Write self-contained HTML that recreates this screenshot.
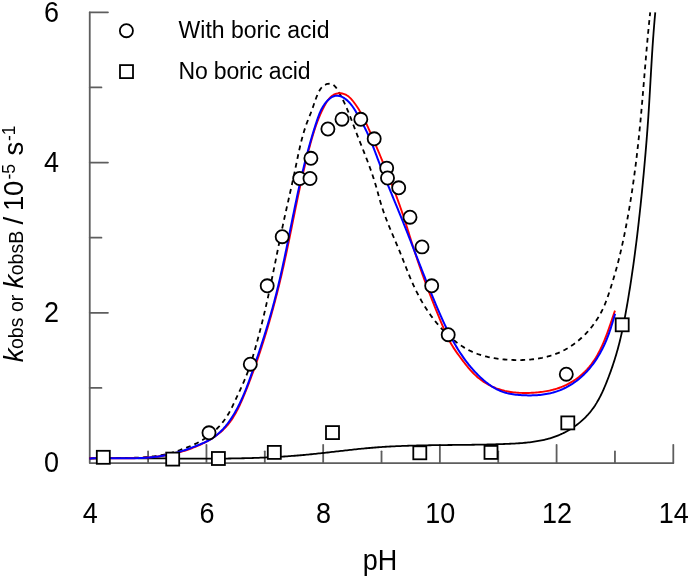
<!DOCTYPE html>
<html><head><meta charset="utf-8"><title>chart</title>
<style>
html,body{margin:0;padding:0;background:#fff;}
body{width:690px;height:578px;overflow:hidden;}
svg{display:block;will-change:transform;}
text{font-family:"Liberation Sans",sans-serif;fill:#000;}
.t{font-size:27.5px;}
.lg{font-size:23px;}
</style></head><body>
<svg width="690" height="578" viewBox="0 0 690 578">
<rect width="690" height="578" fill="#fff"/>

<g stroke="#5e5e5e" stroke-width="1.8" fill="none" stroke-linecap="round" stroke-linejoin="round">
<path d="M89.75,12.33 V463.05 H673.30"/>
<path d="M148.10,463.05 v-11.7"/>
<path d="M206.46,463.05 v-18.2"/>
<path d="M264.81,463.05 v-11.7"/>
<path d="M323.17,463.05 v-18.2"/>
<path d="M381.52,463.05 v-11.7"/>
<path d="M439.88,463.05 v-18.2"/>
<path d="M498.23,463.05 v-11.7"/>
<path d="M556.59,463.05 v-18.2"/>
<path d="M614.94,463.05 v-11.7"/>
<path d="M673.30,463.05 v-18.2"/>
<path d="M89.75,387.93 h11.7"/>
<path d="M89.75,312.81 h18.2"/>
<path d="M89.75,237.69 h11.7"/>
<path d="M89.75,162.57 h18.2"/>
<path d="M89.75,87.45 h11.7"/>
<path d="M89.75,12.33 h18.2"/>
</g>
<g fill="none" stroke-linejoin="round">
<path d="M89.49,458.42 L90.99,458.39 L92.49,458.37 L93.99,458.35 L95.49,458.33 L96.99,458.31 L98.49,458.29 L99.99,458.27 L101.49,458.26 L102.98,458.24 L104.48,458.23 L105.98,458.22 L107.48,458.21 L108.98,458.20 L110.48,458.19 L111.98,458.19 L113.48,458.18 L114.98,458.18 L116.48,458.17 L117.98,458.17 L119.47,458.17 L120.97,458.17 L122.47,458.17 L123.97,458.17 L125.47,458.18 L126.97,458.18 L128.47,458.18 L129.97,458.19 L131.47,458.19 L132.97,458.20 L134.47,458.21 L135.97,458.21 L137.47,458.22 L138.96,458.23 L140.46,458.24 L141.96,458.25 L143.46,458.26 L144.96,458.27 L146.46,458.28 L147.96,458.29 L149.46,458.31 L150.96,458.32 L152.46,458.33 L153.96,458.34 L155.46,458.36 L156.96,458.37 L158.45,458.38 L159.95,458.39 L161.45,458.41 L162.95,458.42 L164.45,458.43 L165.95,458.45 L167.45,458.46 L168.95,458.47 L170.45,458.49 L171.95,458.50 L173.44,458.51 L174.94,458.52 L176.44,458.53 L177.94,458.55 L179.44,458.56 L180.94,458.57 L182.44,458.58 L183.94,458.59 L185.44,458.60 L186.93,458.61 L188.43,458.62 L189.93,458.62 L191.43,458.63 L192.93,458.64 L194.43,458.64 L195.93,458.65 L197.42,458.65 L198.92,458.66 L200.42,458.66 L201.92,458.66 L203.42,458.66 L204.92,458.66 L206.41,458.66 L207.91,458.66 L209.41,458.66 L210.91,458.65 L212.41,458.65 L213.90,458.64 L215.40,458.64 L216.90,458.63 L218.40,458.62 L219.89,458.61 L221.39,458.60 L222.89,458.58 L224.39,458.57 L225.89,458.55 L227.38,458.53 L228.88,458.52 L230.38,458.50 L231.87,458.47 L233.37,458.45 L234.87,458.42 L236.37,458.40 L237.86,458.37 L239.36,458.34 L240.86,458.31 L242.35,458.27 L243.85,458.24 L245.35,458.20 L246.84,458.16 L248.34,458.12 L249.84,458.08 L251.33,458.04 L252.83,457.99 L254.33,457.94 L255.82,457.89 L257.32,457.84 L258.81,457.78 L260.31,457.72 L261.81,457.67 L263.30,457.60 L264.80,457.54 L266.29,457.47 L267.79,457.41 L269.29,457.33 L270.78,457.26 L272.28,457.19 L273.77,457.11 L275.27,457.03 L276.76,456.94 L278.26,456.86 L279.75,456.77 L281.25,456.68 L282.74,456.59 L284.24,456.49 L285.73,456.39 L287.22,456.29 L288.72,456.19 L290.21,456.08 L291.71,455.97 L293.20,455.86 L294.70,455.74 L296.19,455.62 L297.68,455.50 L299.18,455.38 L300.67,455.25 L302.16,455.12 L303.66,454.98 L305.15,454.85 L306.64,454.71 L308.14,454.56 L309.63,454.42 L311.12,454.27 L312.62,454.11 L314.11,453.96 L315.60,453.80 L317.09,453.65 L318.59,453.48 L320.08,453.32 L321.57,453.16 L323.06,452.99 L324.56,452.83 L326.05,452.66 L327.54,452.49 L329.03,452.32 L330.52,452.15 L332.02,451.98 L333.51,451.80 L335.00,451.63 L336.49,451.46 L337.98,451.29 L339.47,451.12 L340.97,450.95 L342.46,450.78 L343.95,450.61 L345.44,450.44 L346.93,450.27 L348.42,450.10 L349.91,449.94 L351.41,449.77 L352.90,449.61 L354.39,449.45 L355.88,449.29 L357.37,449.14 L358.86,448.98 L360.35,448.83 L361.85,448.68 L363.34,448.54 L364.83,448.40 L366.32,448.26 L367.81,448.12 L369.30,447.99 L370.79,447.86 L372.29,447.73 L373.78,447.61 L375.27,447.49 L376.76,447.38 L378.25,447.27 L379.74,447.16 L381.23,447.06 L382.73,446.96 L384.22,446.87 L385.71,446.77 L387.20,446.69 L388.69,446.60 L390.19,446.52 L391.68,446.44 L393.17,446.36 L394.66,446.29 L396.15,446.22 L397.65,446.15 L399.14,446.09 L400.63,446.03 L402.12,445.97 L403.62,445.91 L405.11,445.85 L406.60,445.80 L408.10,445.75 L409.59,445.71 L411.08,445.66 L412.58,445.62 L414.07,445.58 L415.56,445.54 L417.06,445.50 L418.55,445.46 L420.05,445.43 L421.54,445.40 L423.04,445.37 L424.53,445.34 L426.03,445.31 L427.52,445.28 L429.02,445.26 L430.51,445.24 L432.01,445.21 L433.50,445.19 L435.00,445.17 L436.49,445.15 L437.99,445.13 L439.49,445.11 L440.98,445.10 L442.48,445.08 L443.98,445.06 L445.47,445.05 L446.97,445.03 L448.47,445.02 L449.97,445.00 L451.47,444.99 L452.96,444.97 L454.46,444.96 L455.96,444.94 L457.46,444.93 L458.96,444.91 L460.46,444.90 L461.96,444.88 L463.46,444.87 L464.96,444.85 L466.46,444.83 L467.96,444.82 L469.46,444.80 L470.96,444.78 L472.47,444.76 L473.97,444.74 L475.47,444.72 L476.97,444.69 L478.48,444.67 L479.98,444.64 L481.48,444.62 L482.99,444.59 L484.49,444.56 L486.00,444.53 L487.50,444.50 L489.01,444.46 L490.51,444.43 L492.02,444.39 L493.52,444.35 L495.03,444.31 L496.54,444.26 L498.04,444.22 L499.55,444.17 L501.06,444.12 L502.57,444.07 L504.07,444.01 L505.58,443.95 L507.09,443.89 L508.60,443.83 L510.11,443.76 L511.62,443.69 L513.13,443.62 L514.64,443.54 L516.15,443.45 L517.65,443.36 L519.16,443.26 L520.66,443.15 L522.16,443.03 L523.66,442.90 L525.16,442.77 L526.66,442.62 L528.15,442.46 L529.64,442.29 L531.12,442.11 L532.60,441.91 L534.08,441.70 L535.56,441.47 L537.03,441.23 L538.49,440.97 L539.95,440.70 L541.41,440.41 L542.86,440.10 L544.31,439.77 L545.75,439.43 L547.18,439.06 L548.61,438.67 L550.03,438.27 L551.45,437.84 L552.86,437.38 L554.26,436.91 L555.65,436.41 L557.04,435.88 L558.42,435.33 L559.79,434.76 L561.15,434.16 L562.51,433.53 L563.85,432.87 L565.19,432.19 L566.51,431.49 L567.82,430.76 L569.12,430.01 L570.41,429.23 L571.68,428.43 L572.94,427.60 L574.19,426.75 L575.42,425.88 L576.63,424.98 L577.83,424.07 L579.01,423.13 L580.18,422.17 L581.32,421.19 L582.45,420.18 L583.55,419.16 L584.64,418.12 L585.70,417.05 L586.74,415.97 L587.77,414.87 L588.76,413.75 L589.74,412.61 L590.69,411.45 L591.61,410.27 L592.51,409.08 L593.39,407.87 L594.24,406.64 L595.07,405.40 L595.87,404.14 L596.66,402.87 L597.42,401.58 L598.17,400.28 L598.89,398.97 L599.60,397.65 L600.29,396.32 L600.96,394.98 L601.62,393.63 L602.26,392.27 L602.89,390.90 L603.51,389.53 L604.11,388.14 L604.70,386.76 L605.29,385.37 L605.86,383.97 L606.42,382.57 L606.98,381.17 L607.53,379.77 L608.07,378.37 L608.61,376.96 L609.14,375.55 L609.66,374.14 L610.18,372.73 L610.69,371.32 L611.19,369.91 L611.69,368.49 L612.18,367.08 L612.67,365.66 L613.14,364.24 L613.61,362.81 L614.08,361.39 L614.53,359.96 L614.98,358.54 L615.42,357.11 L615.86,355.68 L616.28,354.24 L616.70,352.81 L617.11,351.37 L617.52,349.93 L617.92,348.49 L618.31,347.05 L618.69,345.60 L619.06,344.15 L619.43,342.70 L619.79,341.25 L620.14,339.80 L620.49,338.34 L620.83,336.88 L621.17,335.42 L621.50,333.96 L621.82,332.50 L622.14,331.04 L622.45,329.57 L622.76,328.10 L623.06,326.64 L623.36,325.17 L623.65,323.70 L623.94,322.23 L624.23,320.75 L624.51,319.28 L624.79,317.81 L625.06,316.33 L625.33,314.86 L625.60,313.38 L625.87,311.91 L626.13,310.43 L626.40,308.96 L626.66,307.48 L626.92,306.00 L627.17,304.52 L627.43,303.05 L627.68,301.57 L627.93,300.09 L628.18,298.61 L628.43,297.13 L628.67,295.66 L628.91,294.18 L629.15,292.70 L629.39,291.22 L629.63,289.74 L629.87,288.26 L630.10,286.78 L630.33,285.30 L630.56,283.81 L630.79,282.33 L631.02,280.85 L631.24,279.37 L631.46,277.89 L631.68,276.41 L631.90,274.92 L632.12,273.44 L632.34,271.96 L632.55,270.48 L632.77,268.99 L632.98,267.51 L633.19,266.03 L633.40,264.54 L633.60,263.06 L633.81,261.57 L634.01,260.09 L634.21,258.60 L634.41,257.12 L634.61,255.63 L634.81,254.15 L635.00,252.66 L635.20,251.18 L635.39,249.69 L635.58,248.21 L635.77,246.72 L635.96,245.23 L636.15,243.75 L636.34,242.26 L636.52,240.77 L636.70,239.29 L636.89,237.80 L637.07,236.31 L637.25,234.82 L637.42,233.34 L637.60,231.85 L637.78,230.36 L637.95,228.87 L638.12,227.38 L638.30,225.89 L638.47,224.41 L638.64,222.92 L638.81,221.43 L638.97,219.94 L639.14,218.45 L639.30,216.96 L639.47,215.47 L639.63,213.98 L639.79,212.49 L639.95,211.00 L640.11,209.51 L640.27,208.02 L640.43,206.53 L640.59,205.04 L640.74,203.55 L640.90,202.06 L641.05,200.57 L641.20,199.08 L641.36,197.59 L641.51,196.10 L641.66,194.60 L641.81,193.11 L641.96,191.62 L642.10,190.13 L642.25,188.64 L642.40,187.15 L642.54,185.66 L642.69,184.16 L642.83,182.67 L642.97,181.18 L643.11,179.69 L643.26,178.20 L643.40,176.70 L643.54,175.21 L643.68,173.72 L643.82,172.23 L643.95,170.74 L644.09,169.24 L644.23,167.75 L644.36,166.26 L644.50,164.77 L644.63,163.27 L644.77,161.78 L644.90,160.29 L645.03,158.79 L645.16,157.30 L645.29,155.81 L645.42,154.31 L645.55,152.82 L645.67,151.33 L645.80,149.84 L645.93,148.34 L646.05,146.85 L646.17,145.35 L646.30,143.86 L646.42,142.37 L646.54,140.87 L646.66,139.38 L646.77,137.89 L646.89,136.39 L647.01,134.90 L647.12,133.40 L647.23,131.91 L647.35,130.42 L647.46,128.92 L647.57,127.43 L647.68,125.93 L647.79,124.44 L647.89,122.94 L648.00,121.45 L648.10,119.95 L648.20,118.46 L648.31,116.96 L648.41,115.47 L648.50,113.97 L648.60,112.48 L648.70,110.98 L648.79,109.49 L648.89,107.99 L648.98,106.49 L649.08,105.00 L649.17,103.50 L649.26,102.01 L649.35,100.51 L649.44,99.02 L649.53,97.52 L649.62,96.02 L649.70,94.53 L649.79,93.03 L649.88,91.54 L649.97,90.04 L650.05,88.54 L650.14,87.05 L650.22,85.55 L650.31,84.06 L650.40,82.56 L650.48,81.06 L650.57,79.57 L650.65,78.07 L650.74,76.58 L650.83,75.08 L650.91,73.58 L651.00,72.09 L651.08,70.59 L651.17,69.10 L651.26,67.60 L651.35,66.10 L651.44,64.61 L651.53,63.11 L651.62,61.62 L651.71,60.12 L651.80,58.63 L651.89,57.13 L651.98,55.63 L652.08,54.14 L652.17,52.64 L652.27,51.15 L652.37,49.65 L652.46,48.16 L652.56,46.66 L652.66,45.17 L652.77,43.67 L652.87,42.18 L652.97,40.68 L653.08,39.19 L653.19,37.69 L653.30,36.20 L653.41,34.70 L653.52,33.21 L653.63,31.71 L653.75,30.22 L653.87,28.73 L653.99,27.23 L654.11,25.74 L654.23,24.24 L654.36,22.75 L654.48,21.26 L654.61,19.76 L654.74,18.27 L654.88,16.78 L655.01,15.28 L655.15,13.79 L655.29,12.30" stroke="#000" stroke-width="1.8"/>
<path d="M89.52,458.46 L91.00,458.38 L92.48,458.31 L93.97,458.25 L95.46,458.20 L96.95,458.15 L98.44,458.12 L99.94,458.08 L101.43,458.06 L102.93,458.03 L104.43,458.02 L105.93,458.01 L107.43,458.00 L108.93,457.99 L110.44,457.98 L111.94,457.98 L113.45,457.98 L114.95,457.98 L116.46,457.98 L117.97,457.98 L119.47,457.98 L120.98,457.97 L122.49,457.97 L124.00,457.96 L125.50,457.94 L127.01,457.93 L128.52,457.91 L130.02,457.88 L131.53,457.85 L133.03,457.81 L134.54,457.77 L136.04,457.72 L137.54,457.66 L139.04,457.59 L140.54,457.51 L142.04,457.42 L143.54,457.33 L145.03,457.22 L146.53,457.10 L148.02,456.97 L149.51,456.83 L150.99,456.67 L152.48,456.50 L153.96,456.32 L155.44,456.12 L156.92,455.90 L158.39,455.67 L159.86,455.43 L161.33,455.16 L162.80,454.88 L164.26,454.58 L165.72,454.27 L167.18,453.93 L168.63,453.57 L170.08,453.20 L171.52,452.80 L172.96,452.38 L174.40,451.94 L175.83,451.47 L177.26,450.99 L178.69,450.49 L180.11,449.98 L181.52,449.46 L182.94,448.93 L184.35,448.41 L185.75,447.88 L187.15,447.34 L188.54,446.80 L189.92,446.25 L191.30,445.68 L192.67,445.09 L194.03,444.49 L195.38,443.86 L196.72,443.21 L198.05,442.54 L199.37,441.84 L200.68,441.11 L201.98,440.35 L203.26,439.57 L204.53,438.76 L205.78,437.92 L207.02,437.06 L208.25,436.18 L209.45,435.27 L210.64,434.34 L211.82,433.38 L212.97,432.40 L214.10,431.40 L215.22,430.37 L216.31,429.33 L217.38,428.26 L218.43,427.17 L219.46,426.07 L220.47,424.94 L221.45,423.79 L222.40,422.63 L223.33,421.44 L224.24,420.24 L225.12,419.03 L225.97,417.79 L226.79,416.54 L227.58,415.27 L228.35,413.99 L229.10,412.70 L229.82,411.39 L230.53,410.07 L231.22,408.74 L231.89,407.41 L232.56,406.07 L233.21,404.72 L233.85,403.36 L234.49,402.00 L235.12,400.64 L235.75,399.28 L236.39,397.92 L237.02,396.56 L237.66,395.20 L238.29,393.84 L238.93,392.48 L239.57,391.12 L240.20,389.76 L240.83,388.40 L241.46,387.03 L242.08,385.66 L242.69,384.30 L243.30,382.92 L243.90,381.55 L244.49,380.17 L245.07,378.79 L245.64,377.40 L246.19,376.01 L246.74,374.61 L247.27,373.21 L247.80,371.81 L248.31,370.40 L248.81,368.99 L249.31,367.57 L249.79,366.15 L250.27,364.73 L250.73,363.31 L251.19,361.88 L251.65,360.45 L252.10,359.02 L252.54,357.58 L252.97,356.14 L253.40,354.71 L253.83,353.27 L254.25,351.82 L254.66,350.38 L255.08,348.94 L255.49,347.50 L255.89,346.05 L256.30,344.61 L256.70,343.16 L257.10,341.71 L257.49,340.27 L257.88,338.82 L258.27,337.37 L258.66,335.92 L259.04,334.47 L259.42,333.02 L259.80,331.57 L260.17,330.12 L260.55,328.67 L260.92,327.21 L261.28,325.76 L261.65,324.30 L262.01,322.85 L262.37,321.39 L262.72,319.94 L263.08,318.48 L263.43,317.02 L263.78,315.57 L264.13,314.11 L264.47,312.65 L264.81,311.19 L265.15,309.73 L265.49,308.27 L265.83,306.81 L266.16,305.35 L266.49,303.89 L266.82,302.42 L267.15,300.96 L267.48,299.50 L267.80,298.03 L268.12,296.57 L268.44,295.10 L268.76,293.64 L269.08,292.17 L269.39,290.71 L269.71,289.24 L270.02,287.77 L270.33,286.31 L270.64,284.84 L270.95,283.37 L271.25,281.90 L271.56,280.44 L271.86,278.97 L272.17,277.50 L272.47,276.03 L272.77,274.56 L273.07,273.09 L273.37,271.62 L273.67,270.15 L273.97,268.68 L274.27,267.21 L274.57,265.75 L274.87,264.28 L275.16,262.81 L275.46,261.34 L275.76,259.87 L276.05,258.40 L276.35,256.92 L276.65,255.45 L276.94,253.98 L277.24,252.51 L277.54,251.04 L277.84,249.57 L278.13,248.11 L278.43,246.64 L278.73,245.17 L279.03,243.70 L279.33,242.23 L279.63,240.76 L279.93,239.29 L280.24,237.82 L280.54,236.35 L280.84,234.88 L281.15,233.42 L281.45,231.95 L281.76,230.48 L282.07,229.01 L282.38,227.55 L282.69,226.08 L283.01,224.61 L283.32,223.15 L283.64,221.68 L283.95,220.22 L284.27,218.75 L284.59,217.29 L284.91,215.82 L285.24,214.36 L285.56,212.90 L285.89,211.43 L286.21,209.97 L286.54,208.51 L286.87,207.04 L287.20,205.58 L287.53,204.12 L287.86,202.66 L288.19,201.20 L288.52,199.73 L288.85,198.27 L289.18,196.81 L289.51,195.35 L289.84,193.88 L290.16,192.42 L290.49,190.96 L290.82,189.50 L291.15,188.03 L291.47,186.57 L291.80,185.11 L292.12,183.64 L292.44,182.18 L292.77,180.71 L293.09,179.25 L293.40,177.78 L293.72,176.32 L294.03,174.85 L294.35,173.38 L294.66,171.92 L294.97,170.45 L295.27,168.98 L295.58,167.51 L295.88,166.04 L296.18,164.57 L296.48,163.10 L296.78,161.63 L297.08,160.16 L297.39,158.69 L297.69,157.22 L298.00,155.76 L298.31,154.29 L298.62,152.82 L298.94,151.36 L299.26,149.89 L299.59,148.43 L299.92,146.97 L300.26,145.51 L300.61,144.05 L300.96,142.60 L301.32,141.14 L301.69,139.69 L302.07,138.24 L302.46,136.80 L302.86,135.35 L303.27,133.91 L303.70,132.47 L304.13,131.04 L304.58,129.61 L305.04,128.18 L305.51,126.76 L306.00,125.34 L306.50,123.92 L307.02,122.51 L307.56,121.10 L308.11,119.69 L308.67,118.29 L309.23,116.90 L309.80,115.50 L310.36,114.10 L310.91,112.71 L311.45,111.31 L311.96,109.92 L312.46,108.52 L312.95,107.12 L313.42,105.72 L313.90,104.31 L314.38,102.91 L314.86,101.51 L315.36,100.10 L315.87,98.70 L316.41,97.29 L316.98,95.88 L317.58,94.47 L318.22,93.07 L318.91,91.67 L319.66,90.30 L320.49,88.98 L321.42,87.76 L322.46,86.64 L323.64,85.66 L324.93,84.85 L326.32,84.24 L327.75,83.85 L329.20,83.73 L330.64,83.88 L332.02,84.29 L333.30,84.93 L334.44,85.80 L335.45,86.84 L336.35,88.02 L337.18,89.29 L337.97,90.61 L338.74,91.93 L339.49,93.26 L340.22,94.59 L340.94,95.93 L341.63,97.27 L342.32,98.62 L342.99,99.97 L343.64,101.33 L344.28,102.69 L344.91,104.06 L345.53,105.43 L346.14,106.80 L346.73,108.18 L347.32,109.56 L347.90,110.94 L348.47,112.32 L349.03,113.71 L349.59,115.10 L350.14,116.49 L350.68,117.88 L351.22,119.28 L351.76,120.67 L352.29,122.07 L352.82,123.47 L353.35,124.87 L353.88,126.27 L354.41,127.67 L354.94,129.07 L355.47,130.47 L356.01,131.86 L356.54,133.26 L357.08,134.66 L357.63,136.06 L358.17,137.45 L358.72,138.85 L359.27,140.25 L359.83,141.64 L360.38,143.04 L360.94,144.43 L361.49,145.83 L362.05,147.22 L362.61,148.62 L363.16,150.01 L363.72,151.41 L364.27,152.80 L364.82,154.20 L365.37,155.60 L365.91,157.00 L366.45,158.40 L366.99,159.80 L367.53,161.20 L368.06,162.60 L368.58,164.01 L369.10,165.42 L369.62,166.82 L370.13,168.23 L370.63,169.64 L371.13,171.06 L371.62,172.47 L372.10,173.89 L372.58,175.31 L373.06,176.73 L373.52,178.15 L373.98,179.58 L374.44,181.01 L374.88,182.44 L375.32,183.87 L375.75,185.31 L376.18,186.74 L376.59,188.19 L377.00,189.63 L377.40,191.08 L377.80,192.53 L378.19,193.98 L378.59,195.42 L378.99,196.87 L379.38,198.32 L379.79,199.77 L380.20,201.21 L380.62,202.65 L381.05,204.09 L381.49,205.52 L381.94,206.95 L382.41,208.37 L382.88,209.79 L383.36,211.20 L383.86,212.62 L384.36,214.03 L384.87,215.43 L385.39,216.83 L385.92,218.23 L386.46,219.63 L387.00,221.03 L387.55,222.42 L388.10,223.81 L388.66,225.20 L389.22,226.59 L389.79,227.97 L390.37,229.36 L390.94,230.74 L391.52,232.12 L392.10,233.50 L392.69,234.88 L393.27,236.26 L393.86,237.64 L394.45,239.02 L395.04,240.40 L395.63,241.78 L396.21,243.16 L396.80,244.55 L397.38,245.93 L397.97,247.31 L398.55,248.70 L399.12,250.08 L399.70,251.47 L400.27,252.86 L400.83,254.25 L401.39,255.65 L401.95,257.04 L402.50,258.44 L403.05,259.84 L403.60,261.24 L404.15,262.64 L404.70,264.04 L405.25,265.44 L405.79,266.84 L406.34,268.23 L406.90,269.63 L407.45,271.03 L408.01,272.42 L408.57,273.81 L409.14,275.20 L409.71,276.59 L410.28,277.98 L410.87,279.36 L411.46,280.74 L412.06,282.11 L412.67,283.48 L413.28,284.85 L413.91,286.21 L414.55,287.57 L415.19,288.92 L415.85,290.27 L416.51,291.61 L417.19,292.94 L417.87,294.27 L418.57,295.60 L419.27,296.92 L419.99,298.23 L420.71,299.54 L421.45,300.84 L422.20,302.14 L422.96,303.43 L423.73,304.71 L424.51,305.98 L425.30,307.25 L426.10,308.51 L426.92,309.76 L427.75,311.01 L428.59,312.25 L429.44,313.48 L430.30,314.70 L431.17,315.91 L432.06,317.12 L432.96,318.31 L433.87,319.50 L434.80,320.68 L435.74,321.85 L436.69,323.01 L437.65,324.17 L438.63,325.31 L439.62,326.44 L440.62,327.56 L441.64,328.68 L442.67,329.78 L443.72,330.87 L444.78,331.96 L445.85,333.03 L446.93,334.08 L448.03,335.13 L449.15,336.16 L450.27,337.17 L451.41,338.17 L452.56,339.15 L453.73,340.11 L454.91,341.06 L456.10,341.99 L457.30,342.90 L458.52,343.79 L459.75,344.66 L460.99,345.50 L462.24,346.33 L463.51,347.13 L464.79,347.91 L466.08,348.66 L467.39,349.39 L468.70,350.09 L470.03,350.77 L471.37,351.42 L472.72,352.04 L474.09,352.63 L475.46,353.19 L476.85,353.72 L478.25,354.23 L479.66,354.71 L481.07,355.17 L482.50,355.60 L483.93,356.00 L485.38,356.38 L486.83,356.74 L488.29,357.07 L489.75,357.39 L491.22,357.68 L492.70,357.95 L494.18,358.20 L495.67,358.44 L497.16,358.65 L498.65,358.85 L500.15,359.03 L501.65,359.19 L503.15,359.34 L504.65,359.48 L506.15,359.60 L507.66,359.71 L509.16,359.80 L510.67,359.88 L512.18,359.95 L513.68,360.00 L515.19,360.04 L516.69,360.06 L518.19,360.07 L519.70,360.06 L521.20,360.04 L522.70,360.00 L524.20,359.94 L525.70,359.87 L527.20,359.78 L528.69,359.67 L530.19,359.54 L531.68,359.40 L533.17,359.24 L534.66,359.05 L536.14,358.85 L537.63,358.63 L539.11,358.39 L540.58,358.13 L542.06,357.85 L543.52,357.54 L544.99,357.22 L546.44,356.87 L547.89,356.49 L549.33,356.09 L550.77,355.67 L552.19,355.22 L553.61,354.75 L555.01,354.24 L556.41,353.71 L557.79,353.16 L559.17,352.57 L560.53,351.96 L561.88,351.32 L563.21,350.65 L564.54,349.96 L565.85,349.24 L567.15,348.50 L568.43,347.73 L569.70,346.94 L570.96,346.12 L572.20,345.28 L573.43,344.42 L574.64,343.54 L575.84,342.63 L577.03,341.70 L578.19,340.75 L579.35,339.78 L580.48,338.80 L581.60,337.79 L582.71,336.76 L583.79,335.71 L584.86,334.64 L585.91,333.56 L586.95,332.46 L587.96,331.34 L588.96,330.21 L589.94,329.06 L590.90,327.89 L591.84,326.71 L592.77,325.52 L593.67,324.31 L594.55,323.08 L595.42,321.85 L596.26,320.60 L597.08,319.33 L597.88,318.06 L598.66,316.77 L599.42,315.48 L600.16,314.17 L600.87,312.85 L601.57,311.52 L602.24,310.19 L602.88,308.84 L603.51,307.49 L604.11,306.13 L604.70,304.76 L605.27,303.38 L605.82,302.00 L606.35,300.61 L606.87,299.21 L607.38,297.81 L607.88,296.41 L608.36,295.00 L608.84,293.58 L609.31,292.16 L609.77,290.74 L610.22,289.31 L610.68,287.88 L611.12,286.45 L611.57,285.02 L612.01,283.58 L612.45,282.15 L612.89,280.71 L613.32,279.26 L613.75,277.82 L614.18,276.38 L614.60,274.93 L615.02,273.49 L615.43,272.04 L615.84,270.59 L616.24,269.14 L616.64,267.69 L617.03,266.23 L617.42,264.78 L617.80,263.33 L618.18,261.87 L618.55,260.42 L618.92,258.96 L619.28,257.50 L619.64,256.05 L619.99,254.59 L620.34,253.13 L620.68,251.67 L621.02,250.21 L621.36,248.75 L621.69,247.29 L622.02,245.82 L622.34,244.36 L622.66,242.90 L622.98,241.43 L623.29,239.97 L623.60,238.50 L623.90,237.03 L624.21,235.57 L624.51,234.10 L624.80,232.63 L625.09,231.16 L625.38,229.69 L625.67,228.22 L625.96,226.75 L626.24,225.28 L626.52,223.81 L626.79,222.34 L627.07,220.86 L627.34,219.39 L627.61,217.92 L627.87,216.44 L628.14,214.97 L628.40,213.49 L628.65,212.01 L628.91,210.54 L629.16,209.06 L629.41,207.58 L629.66,206.10 L629.91,204.63 L630.15,203.15 L630.39,201.67 L630.63,200.19 L630.87,198.71 L631.10,197.23 L631.34,195.74 L631.57,194.26 L631.79,192.78 L632.02,191.30 L632.24,189.81 L632.46,188.33 L632.68,186.85 L632.90,185.36 L633.11,183.88 L633.32,182.39 L633.53,180.91 L633.74,179.42 L633.95,177.94 L634.15,176.45 L634.35,174.97 L634.55,173.48 L634.75,171.99 L634.95,170.50 L635.14,169.02 L635.33,167.53 L635.52,166.04 L635.71,164.55 L635.90,163.06 L636.08,161.58 L636.27,160.09 L636.45,158.60 L636.63,157.11 L636.80,155.62 L636.98,154.13 L637.15,152.64 L637.32,151.15 L637.49,149.66 L637.66,148.17 L637.83,146.68 L637.99,145.18 L638.16,143.69 L638.32,142.20 L638.48,140.71 L638.64,139.22 L638.80,137.73 L638.95,136.24 L639.11,134.74 L639.26,133.25 L639.41,131.76 L639.56,130.27 L639.71,128.78 L639.86,127.28 L640.00,125.79 L640.15,124.30 L640.29,122.81 L640.43,121.31 L640.57,119.82 L640.71,118.33 L640.85,116.84 L640.99,115.34 L641.12,113.85 L641.26,112.36 L641.40,110.86 L641.53,109.37 L641.66,107.88 L641.79,106.38 L641.93,104.89 L642.06,103.40 L642.19,101.90 L642.32,100.41 L642.44,98.92 L642.57,97.42 L642.70,95.93 L642.83,94.44 L642.95,92.94 L643.08,91.45 L643.21,89.96 L643.33,88.46 L643.46,86.97 L643.58,85.47 L643.71,83.98 L643.83,82.49 L643.96,80.99 L644.08,79.50 L644.21,78.01 L644.33,76.51 L644.45,75.02 L644.58,73.52 L644.70,72.03 L644.83,70.54 L644.95,69.04 L645.08,67.55 L645.20,66.05 L645.33,64.56 L645.45,63.07 L645.58,61.57 L645.71,60.08 L645.83,58.59 L645.96,57.09 L646.09,55.60 L646.22,54.10 L646.35,52.61 L646.48,51.12 L646.61,49.62 L646.74,48.13 L646.87,46.64 L647.00,45.14 L647.13,43.65 L647.27,42.16 L647.40,40.66 L647.54,39.17 L647.68,37.68 L647.82,36.18 L647.95,34.69 L648.10,33.20 L648.24,31.70 L648.38,30.21 L648.52,28.72 L648.67,27.22 L648.81,25.73 L648.96,24.24 L649.11,22.74 L649.26,21.25 L649.41,19.76 L649.57,18.27 L649.72,16.77 L649.88,15.28 L650.04,13.79 L650.20,12.30" stroke="#000" stroke-width="1.8" stroke-dasharray="4.8 4.1"/>
<path d="M89.51,458.20 L91.00,458.19 L92.49,458.18 L93.98,458.18 L95.47,458.18 L96.97,458.19 L98.46,458.19 L99.96,458.20 L101.46,458.21 L102.96,458.22 L104.46,458.24 L105.96,458.25 L107.46,458.27 L108.96,458.28 L110.46,458.30 L111.96,458.31 L113.46,458.32 L114.97,458.33 L116.47,458.34 L117.97,458.35 L119.48,458.36 L120.98,458.36 L122.48,458.36 L123.98,458.35 L125.49,458.35 L126.99,458.33 L128.49,458.32 L129.99,458.29 L131.49,458.27 L132.99,458.23 L134.49,458.19 L135.99,458.15 L137.49,458.10 L138.99,458.04 L140.49,457.97 L141.98,457.89 L143.48,457.81 L144.97,457.72 L146.47,457.62 L147.96,457.51 L149.45,457.39 L150.94,457.26 L152.43,457.12 L153.91,456.96 L155.40,456.80 L156.88,456.63 L158.36,456.44 L159.84,456.24 L161.32,456.03 L162.80,455.81 L164.27,455.57 L165.75,455.32 L167.22,455.05 L168.69,454.78 L170.15,454.48 L171.62,454.17 L173.08,453.85 L174.54,453.51 L175.99,453.16 L177.45,452.79 L178.89,452.41 L180.34,452.01 L181.78,451.60 L183.22,451.17 L184.66,450.72 L186.09,450.26 L187.51,449.79 L188.93,449.29 L190.35,448.79 L191.76,448.26 L193.17,447.72 L194.57,447.16 L195.96,446.59 L197.35,446.00 L198.74,445.39 L200.12,444.77 L201.49,444.13 L202.85,443.47 L204.21,442.79 L205.55,442.10 L206.88,441.39 L208.20,440.65 L209.51,439.90 L210.81,439.13 L212.08,438.33 L213.34,437.52 L214.59,436.68 L215.81,435.83 L217.02,434.94 L218.21,434.04 L219.37,433.12 L220.51,432.17 L221.63,431.19 L222.72,430.19 L223.79,429.17 L224.83,428.12 L225.84,427.05 L226.82,425.95 L227.78,424.83 L228.71,423.68 L229.61,422.51 L230.49,421.32 L231.35,420.10 L232.18,418.87 L232.99,417.62 L233.78,416.36 L234.55,415.07 L235.30,413.77 L236.03,412.46 L236.75,411.13 L237.45,409.80 L238.13,408.45 L238.80,407.09 L239.46,405.72 L240.10,404.34 L240.74,402.95 L241.36,401.56 L241.97,400.17 L242.57,398.77 L243.17,397.36 L243.76,395.96 L244.34,394.55 L244.91,393.15 L245.49,391.74 L246.05,390.34 L246.61,388.93 L247.17,387.53 L247.73,386.12 L248.28,384.72 L248.82,383.31 L249.36,381.91 L249.90,380.51 L250.43,379.10 L250.96,377.70 L251.48,376.29 L252.00,374.89 L252.52,373.48 L253.03,372.08 L253.54,370.67 L254.05,369.27 L254.55,367.86 L255.05,366.45 L255.55,365.05 L256.04,363.64 L256.53,362.23 L257.02,360.82 L257.50,359.41 L257.98,358.00 L258.46,356.59 L258.93,355.17 L259.40,353.76 L259.87,352.34 L260.34,350.93 L260.80,349.51 L261.26,348.09 L261.72,346.67 L262.18,345.25 L262.63,343.83 L263.08,342.41 L263.53,340.98 L263.98,339.56 L264.42,338.13 L264.86,336.71 L265.30,335.28 L265.74,333.85 L266.17,332.42 L266.61,330.99 L267.04,329.55 L267.46,328.12 L267.89,326.69 L268.31,325.25 L268.73,323.81 L269.15,322.38 L269.56,320.94 L269.97,319.50 L270.38,318.06 L270.79,316.62 L271.20,315.18 L271.60,313.73 L272.00,312.29 L272.40,310.85 L272.80,309.40 L273.19,307.95 L273.58,306.51 L273.97,305.06 L274.36,303.61 L274.74,302.16 L275.12,300.71 L275.50,299.26 L275.88,297.81 L276.25,296.35 L276.63,294.90 L277.00,293.45 L277.37,291.99 L277.73,290.54 L278.10,289.08 L278.46,287.62 L278.82,286.17 L279.17,284.71 L279.53,283.25 L279.88,281.79 L280.23,280.33 L280.58,278.87 L280.92,277.41 L281.27,275.95 L281.61,274.49 L281.95,273.02 L282.28,271.56 L282.62,270.10 L282.95,268.63 L283.28,267.17 L283.61,265.70 L283.94,264.24 L284.26,262.77 L284.58,261.30 L284.90,259.84 L285.22,258.37 L285.54,256.90 L285.86,255.43 L286.17,253.96 L286.48,252.50 L286.80,251.03 L287.11,249.56 L287.41,248.09 L287.72,246.62 L288.03,245.15 L288.33,243.68 L288.64,242.21 L288.94,240.74 L289.25,239.27 L289.55,237.80 L289.85,236.32 L290.15,234.85 L290.45,233.38 L290.75,231.91 L291.05,230.44 L291.35,228.97 L291.65,227.50 L291.94,226.03 L292.24,224.56 L292.54,223.09 L292.84,221.62 L293.14,220.14 L293.43,218.67 L293.73,217.20 L294.03,215.73 L294.33,214.26 L294.63,212.79 L294.93,211.32 L295.23,209.86 L295.53,208.39 L295.83,206.92 L296.13,205.45 L296.43,203.98 L296.74,202.51 L297.04,201.05 L297.34,199.58 L297.65,198.11 L297.96,196.65 L298.26,195.18 L298.57,193.72 L298.88,192.25 L299.20,190.79 L299.51,189.32 L299.82,187.86 L300.14,186.40 L300.46,184.94 L300.78,183.47 L301.10,182.01 L301.42,180.55 L301.75,179.09 L302.07,177.63 L302.40,176.18 L302.73,174.72 L303.07,173.26 L303.40,171.81 L303.74,170.35 L304.08,168.90 L304.42,167.44 L304.77,165.99 L305.11,164.54 L305.46,163.09 L305.82,161.64 L306.17,160.19 L306.53,158.74 L306.89,157.29 L307.25,155.85 L307.62,154.40 L307.99,152.96 L308.36,151.51 L308.74,150.07 L309.12,148.63 L309.50,147.19 L309.89,145.75 L310.28,144.31 L310.67,142.87 L311.07,141.44 L311.47,140.00 L311.87,138.57 L312.29,137.14 L312.71,135.71 L313.13,134.28 L313.57,132.85 L314.01,131.42 L314.46,130.00 L314.93,128.58 L315.40,127.16 L315.89,125.74 L316.39,124.32 L316.90,122.91 L317.43,121.49 L317.97,120.08 L318.52,118.67 L319.10,117.27 L319.69,115.86 L320.29,114.46 L320.92,113.06 L321.56,111.67 L322.22,110.27 L322.91,108.88 L323.61,107.49 L324.34,106.10 L325.09,104.72 L325.87,103.36 L326.68,102.03 L327.53,100.75 L328.42,99.52 L329.37,98.37 L330.37,97.30 L331.42,96.33 L332.54,95.47 L333.74,94.73 L335.00,94.14 L336.35,93.70 L337.76,93.41 L339.22,93.28 L340.69,93.31 L342.15,93.49 L343.58,93.82 L344.96,94.31 L346.26,94.95 L347.50,95.72 L348.69,96.61 L349.81,97.59 L350.89,98.66 L351.92,99.80 L352.91,100.99 L353.87,102.22 L354.79,103.47 L355.69,104.73 L356.57,106.00 L357.41,107.28 L358.24,108.56 L359.04,109.85 L359.82,111.15 L360.58,112.45 L361.33,113.77 L362.05,115.08 L362.76,116.41 L363.45,117.74 L364.13,119.07 L364.79,120.41 L365.44,121.75 L366.08,123.10 L366.71,124.45 L367.34,125.81 L367.95,127.16 L368.56,128.52 L369.16,129.89 L369.75,131.25 L370.35,132.62 L370.94,133.99 L371.52,135.36 L372.11,136.73 L372.70,138.10 L373.29,139.47 L373.88,140.84 L374.47,142.22 L375.05,143.59 L375.64,144.97 L376.23,146.34 L376.81,147.72 L377.40,149.10 L377.98,150.48 L378.57,151.86 L379.15,153.24 L379.73,154.62 L380.31,156.00 L380.89,157.38 L381.47,158.76 L382.05,160.15 L382.62,161.53 L383.20,162.92 L383.77,164.30 L384.34,165.69 L384.92,167.08 L385.48,168.47 L386.05,169.86 L386.62,171.25 L387.18,172.64 L387.74,174.03 L388.31,175.43 L388.86,176.82 L389.42,178.22 L389.97,179.61 L390.53,181.01 L391.08,182.41 L391.62,183.80 L392.17,185.20 L392.71,186.60 L393.25,188.01 L393.79,189.41 L394.32,190.81 L394.86,192.21 L395.39,193.62 L395.91,195.02 L396.44,196.43 L396.96,197.84 L397.48,199.25 L397.99,200.66 L398.50,202.07 L399.01,203.48 L399.52,204.89 L400.02,206.30 L400.52,207.72 L401.01,209.13 L401.50,210.55 L401.99,211.96 L402.47,213.38 L402.95,214.80 L403.43,216.22 L403.90,217.64 L404.37,219.06 L404.84,220.48 L405.30,221.91 L405.75,223.33 L406.21,224.76 L406.66,226.18 L407.11,227.61 L407.55,229.04 L408.00,230.46 L408.44,231.89 L408.88,233.32 L409.33,234.75 L409.77,236.18 L410.21,237.60 L410.66,239.03 L411.10,240.46 L411.55,241.89 L411.99,243.32 L412.44,244.74 L412.90,246.17 L413.35,247.60 L413.81,249.02 L414.27,250.45 L414.74,251.87 L415.21,253.30 L415.68,254.72 L416.15,256.14 L416.63,257.57 L417.11,258.99 L417.59,260.41 L418.07,261.83 L418.56,263.25 L419.05,264.66 L419.54,266.08 L420.03,267.50 L420.53,268.91 L421.03,270.33 L421.53,271.74 L422.04,273.16 L422.54,274.57 L423.05,275.98 L423.56,277.39 L424.08,278.80 L424.59,280.21 L425.11,281.61 L425.63,283.02 L426.15,284.43 L426.68,285.83 L427.21,287.23 L427.73,288.64 L428.27,290.04 L428.80,291.44 L429.33,292.84 L429.87,294.24 L430.41,295.64 L430.95,297.03 L431.50,298.43 L432.04,299.82 L432.59,301.22 L433.14,302.61 L433.69,304.01 L434.24,305.40 L434.80,306.79 L435.35,308.18 L435.91,309.57 L436.47,310.96 L437.04,312.35 L437.60,313.74 L438.17,315.13 L438.73,316.51 L439.30,317.90 L439.88,319.29 L440.45,320.67 L441.02,322.06 L441.60,323.44 L442.18,324.82 L442.76,326.21 L443.34,327.59 L443.92,328.97 L444.51,330.35 L445.10,331.73 L445.70,333.10 L446.31,334.47 L446.93,335.83 L447.57,337.19 L448.23,338.53 L448.91,339.87 L449.61,341.19 L450.33,342.50 L451.08,343.80 L451.85,345.09 L452.64,346.36 L453.45,347.63 L454.27,348.88 L455.11,350.13 L455.96,351.37 L456.83,352.60 L457.70,353.83 L458.58,355.04 L459.47,356.26 L460.37,357.46 L461.26,358.67 L462.16,359.86 L463.06,361.06 L463.97,362.25 L464.88,363.43 L465.80,364.60 L466.73,365.77 L467.67,366.93 L468.62,368.07 L469.59,369.20 L470.58,370.32 L471.59,371.42 L472.62,372.51 L473.67,373.58 L474.74,374.63 L475.85,375.66 L476.98,376.67 L478.13,377.66 L479.31,378.62 L480.52,379.56 L481.74,380.47 L482.98,381.35 L484.25,382.20 L485.53,383.02 L486.83,383.80 L488.14,384.55 L489.47,385.26 L490.81,385.94 L492.16,386.58 L493.53,387.18 L494.91,387.75 L496.30,388.29 L497.70,388.79 L499.11,389.26 L500.53,389.70 L501.96,390.11 L503.40,390.49 L504.84,390.84 L506.30,391.16 L507.76,391.45 L509.23,391.71 L510.70,391.95 L512.18,392.16 L513.67,392.34 L515.16,392.50 L516.65,392.64 L518.15,392.75 L519.65,392.84 L521.15,392.91 L522.66,392.96 L524.17,392.98 L525.67,392.99 L527.18,392.97 L528.69,392.94 L530.20,392.89 L531.70,392.82 L533.21,392.74 L534.71,392.63 L536.21,392.52 L537.71,392.38 L539.20,392.23 L540.70,392.06 L542.18,391.87 L543.66,391.65 L545.14,391.42 L546.61,391.16 L548.08,390.88 L549.54,390.58 L550.99,390.25 L552.44,389.90 L553.88,389.52 L555.31,389.12 L556.74,388.69 L558.15,388.23 L559.56,387.74 L560.96,387.22 L562.34,386.67 L563.72,386.08 L565.09,385.47 L566.45,384.82 L567.79,384.14 L569.12,383.43 L570.44,382.69 L571.74,381.92 L573.03,381.13 L574.30,380.30 L575.56,379.45 L576.79,378.57 L578.00,377.66 L579.20,376.73 L580.37,375.77 L581.52,374.79 L582.65,373.79 L583.76,372.76 L584.84,371.72 L585.89,370.65 L586.92,369.56 L587.91,368.45 L588.89,367.32 L589.84,366.17 L590.76,365.01 L591.66,363.83 L592.53,362.63 L593.38,361.41 L594.21,360.18 L595.02,358.94 L595.81,357.68 L596.57,356.40 L597.32,355.12 L598.05,353.82 L598.76,352.51 L599.45,351.18 L600.13,349.85 L600.79,348.51 L601.43,347.16 L602.06,345.79 L602.68,344.42 L603.28,343.05 L603.87,341.66 L604.45,340.27 L605.01,338.87 L605.57,337.47 L606.11,336.06 L606.65,334.65 L607.18,333.23 L607.70,331.82 L608.21,330.40 L608.71,328.97 L609.21,327.55 L609.70,326.13 L610.19,324.70 L610.68,323.28 L611.16,321.86 L611.64,320.44 L612.12,319.02 L612.59,317.61 L613.07,316.20 L613.54,314.79 L614.02,313.39 L614.50,312.00 L614.98,310.61" stroke="#f00" stroke-width="1.9"/>
<path d="M89.52,458.43 L91.00,458.38 L92.48,458.33 L93.97,458.30 L95.46,458.27 L96.95,458.24 L98.44,458.23 L99.93,458.21 L101.43,458.21 L102.93,458.20 L104.43,458.20 L105.93,458.21 L107.43,458.21 L108.93,458.22 L110.43,458.23 L111.94,458.24 L113.44,458.25 L114.95,458.27 L116.46,458.28 L117.97,458.29 L119.47,458.30 L120.98,458.31 L122.49,458.31 L124.00,458.32 L125.51,458.32 L127.02,458.31 L128.52,458.31 L130.03,458.29 L131.54,458.27 L133.04,458.25 L134.55,458.22 L136.05,458.18 L137.56,458.14 L139.06,458.09 L140.56,458.03 L142.06,457.96 L143.56,457.88 L145.06,457.79 L146.55,457.69 L148.05,457.58 L149.54,457.46 L151.03,457.33 L152.52,457.18 L154.00,457.03 L155.49,456.86 L156.97,456.67 L158.44,456.47 L159.92,456.26 L161.39,456.03 L162.86,455.78 L164.33,455.52 L165.79,455.24 L167.25,454.95 L168.71,454.63 L170.16,454.30 L171.61,453.96 L173.06,453.60 L174.51,453.22 L175.95,452.83 L177.39,452.42 L178.82,452.00 L180.26,451.57 L181.69,451.12 L183.12,450.66 L184.55,450.19 L185.97,449.71 L187.40,449.22 L188.82,448.71 L190.24,448.20 L191.66,447.68 L193.07,447.14 L194.49,446.60 L195.90,446.05 L197.31,445.50 L198.72,444.93 L200.13,444.36 L201.53,443.77 L202.93,443.17 L204.31,442.55 L205.68,441.91 L207.03,441.25 L208.37,440.56 L209.68,439.84 L210.97,439.08 L212.23,438.29 L213.47,437.46 L214.68,436.60 L215.86,435.70 L217.02,434.77 L218.16,433.81 L219.27,432.82 L220.35,431.81 L221.41,430.76 L222.45,429.69 L223.47,428.60 L224.46,427.48 L225.44,426.34 L226.39,425.18 L227.32,424.00 L228.23,422.80 L229.12,421.58 L229.99,420.34 L230.84,419.10 L231.68,417.83 L232.49,416.56 L233.29,415.27 L234.07,413.98 L234.84,412.67 L235.59,411.36 L236.32,410.04 L237.04,408.72 L237.74,407.39 L238.43,406.05 L239.10,404.71 L239.77,403.36 L240.41,402.01 L241.05,400.66 L241.68,399.29 L242.29,397.93 L242.89,396.56 L243.48,395.18 L244.07,393.80 L244.64,392.42 L245.20,391.04 L245.76,389.65 L246.31,388.25 L246.85,386.86 L247.39,385.46 L247.91,384.06 L248.44,382.66 L248.95,381.25 L249.46,379.84 L249.97,378.43 L250.48,377.02 L250.98,375.61 L251.47,374.20 L251.97,372.78 L252.46,371.37 L252.96,369.95 L253.45,368.53 L253.94,367.12 L254.43,365.70 L254.91,364.28 L255.40,362.86 L255.88,361.44 L256.37,360.02 L256.85,358.60 L257.33,357.18 L257.81,355.76 L258.28,354.33 L258.76,352.91 L259.23,351.48 L259.70,350.06 L260.17,348.63 L260.64,347.21 L261.11,345.78 L261.57,344.35 L262.03,342.92 L262.49,341.49 L262.95,340.06 L263.41,338.63 L263.86,337.20 L264.31,335.77 L264.76,334.34 L265.21,332.90 L265.65,331.47 L266.09,330.04 L266.53,328.60 L266.97,327.16 L267.40,325.73 L267.83,324.29 L268.26,322.85 L268.69,321.41 L269.11,319.97 L269.53,318.53 L269.95,317.09 L270.37,315.65 L270.78,314.21 L271.19,312.76 L271.59,311.32 L272.00,309.87 L272.40,308.43 L272.79,306.98 L273.19,305.54 L273.58,304.09 L273.97,302.64 L274.35,301.19 L274.73,299.74 L275.11,298.29 L275.48,296.84 L275.85,295.39 L276.22,293.93 L276.58,292.48 L276.95,291.02 L277.30,289.57 L277.66,288.11 L278.01,286.66 L278.36,285.20 L278.71,283.74 L279.05,282.28 L279.40,280.83 L279.74,279.37 L280.07,277.91 L280.41,276.45 L280.74,274.98 L281.07,273.52 L281.40,272.06 L281.73,270.60 L282.05,269.14 L282.37,267.67 L282.69,266.21 L283.01,264.74 L283.33,263.28 L283.64,261.81 L283.96,260.35 L284.27,258.88 L284.58,257.42 L284.89,255.95 L285.20,254.48 L285.50,253.02 L285.81,251.55 L286.11,250.08 L286.42,248.61 L286.72,247.15 L287.02,245.68 L287.32,244.21 L287.62,242.74 L287.92,241.27 L288.22,239.80 L288.52,238.33 L288.81,236.86 L289.11,235.39 L289.41,233.92 L289.71,232.45 L290.00,230.98 L290.30,229.51 L290.59,228.04 L290.89,226.57 L291.19,225.10 L291.48,223.63 L291.78,222.16 L292.08,220.69 L292.37,219.22 L292.67,217.75 L292.97,216.28 L293.27,214.81 L293.57,213.34 L293.87,211.87 L294.17,210.40 L294.47,208.93 L294.77,207.47 L295.08,206.00 L295.38,204.53 L295.69,203.06 L295.99,201.59 L296.30,200.12 L296.61,198.65 L296.92,197.19 L297.23,195.72 L297.55,194.25 L297.86,192.78 L298.18,191.32 L298.50,189.85 L298.82,188.39 L299.14,186.92 L299.47,185.45 L299.79,183.99 L300.12,182.53 L300.45,181.06 L300.79,179.60 L301.12,178.14 L301.46,176.67 L301.80,175.21 L302.14,173.75 L302.49,172.29 L302.83,170.83 L303.18,169.37 L303.54,167.91 L303.89,166.45 L304.25,164.99 L304.61,163.53 L304.98,162.08 L305.35,160.62 L305.72,159.16 L306.09,157.71 L306.47,156.26 L306.85,154.80 L307.23,153.35 L307.62,151.90 L308.01,150.45 L308.40,149.01 L308.80,147.56 L309.20,146.12 L309.60,144.67 L310.01,143.23 L310.42,141.79 L310.83,140.35 L311.25,138.92 L311.67,137.48 L312.10,136.05 L312.52,134.62 L312.96,133.19 L313.39,131.76 L313.83,130.34 L314.28,128.92 L314.73,127.50 L315.18,126.08 L315.63,124.66 L316.09,123.25 L316.56,121.84 L317.03,120.43 L317.50,119.03 L317.98,117.63 L318.49,116.23 L319.01,114.83 L319.56,113.44 L320.15,112.06 L320.78,110.68 L321.46,109.31 L322.20,107.95 L322.99,106.59 L323.85,105.24 L324.77,103.92 L325.75,102.64 L326.78,101.41 L327.87,100.25 L329.00,99.19 L330.18,98.23 L331.40,97.40 L332.66,96.71 L333.94,96.18 L335.26,95.82 L336.60,95.66 L337.96,95.70 L339.33,95.94 L340.70,96.35 L342.06,96.93 L343.39,97.63 L344.69,98.45 L345.94,99.37 L347.13,100.36 L348.26,101.40 L349.33,102.49 L350.34,103.63 L351.30,104.80 L352.21,106.01 L353.08,107.25 L353.92,108.52 L354.73,109.80 L355.51,111.10 L356.28,112.42 L357.03,113.73 L357.77,115.05 L358.51,116.37 L359.25,117.68 L359.99,118.99 L360.73,120.29 L361.46,121.60 L362.18,122.90 L362.90,124.21 L363.60,125.52 L364.29,126.83 L364.98,128.16 L365.64,129.48 L366.30,130.82 L366.94,132.16 L367.57,133.51 L368.19,134.87 L368.80,136.23 L369.39,137.60 L369.98,138.97 L370.56,140.35 L371.13,141.73 L371.70,143.11 L372.25,144.50 L372.81,145.90 L373.35,147.29 L373.89,148.69 L374.43,150.09 L374.96,151.50 L375.49,152.90 L376.02,154.31 L376.55,155.72 L377.08,157.13 L377.60,158.53 L378.13,159.94 L378.66,161.35 L379.19,162.76 L379.72,164.17 L380.25,165.57 L380.79,166.98 L381.33,168.38 L381.87,169.78 L382.42,171.18 L382.97,172.58 L383.52,173.98 L384.07,175.38 L384.62,176.77 L385.18,178.17 L385.74,179.56 L386.30,180.96 L386.86,182.35 L387.42,183.74 L387.99,185.14 L388.55,186.53 L389.12,187.92 L389.69,189.31 L390.25,190.70 L390.82,192.09 L391.39,193.48 L391.96,194.86 L392.53,196.25 L393.10,197.64 L393.68,199.03 L394.25,200.41 L394.82,201.80 L395.39,203.19 L395.96,204.58 L396.53,205.96 L397.10,207.35 L397.67,208.74 L398.24,210.12 L398.81,211.51 L399.38,212.90 L399.94,214.29 L400.51,215.68 L401.07,217.06 L401.63,218.45 L402.19,219.84 L402.75,221.23 L403.31,222.62 L403.87,224.01 L404.42,225.40 L404.98,226.79 L405.53,228.18 L406.08,229.58 L406.63,230.97 L407.18,232.36 L407.73,233.75 L408.28,235.15 L408.83,236.54 L409.37,237.93 L409.92,239.33 L410.47,240.72 L411.01,242.11 L411.56,243.51 L412.10,244.90 L412.64,246.29 L413.19,247.69 L413.73,249.08 L414.27,250.48 L414.82,251.87 L415.36,253.27 L415.90,254.66 L416.45,256.06 L416.99,257.45 L417.53,258.85 L418.08,260.24 L418.62,261.63 L419.17,263.03 L419.71,264.42 L420.26,265.82 L420.80,267.21 L421.35,268.61 L421.90,270.00 L422.45,271.39 L422.99,272.79 L423.54,274.18 L424.10,275.58 L424.65,276.97 L425.20,278.36 L425.75,279.75 L426.31,281.15 L426.86,282.54 L427.42,283.93 L427.98,285.32 L428.54,286.71 L429.10,288.11 L429.67,289.50 L430.23,290.89 L430.80,292.28 L431.37,293.67 L431.94,295.06 L432.51,296.44 L433.08,297.83 L433.66,299.22 L434.23,300.61 L434.81,302.00 L435.40,303.38 L435.98,304.77 L436.57,306.15 L437.15,307.54 L437.75,308.92 L438.34,310.31 L438.94,311.69 L439.54,313.07 L440.14,314.45 L440.75,315.83 L441.36,317.20 L441.97,318.58 L442.59,319.95 L443.22,321.32 L443.85,322.69 L444.48,324.05 L445.12,325.41 L445.77,326.77 L446.42,328.12 L447.08,329.47 L447.75,330.82 L448.42,332.16 L449.10,333.50 L449.78,334.84 L450.48,336.17 L451.18,337.49 L451.89,338.81 L452.61,340.12 L453.33,341.43 L454.07,342.74 L454.81,344.03 L455.56,345.33 L456.33,346.61 L457.10,347.89 L457.88,349.16 L458.67,350.43 L459.48,351.69 L460.29,352.94 L461.12,354.18 L461.95,355.42 L462.80,356.65 L463.66,357.87 L464.53,359.08 L465.42,360.28 L466.31,361.48 L467.22,362.66 L468.14,363.84 L469.08,365.01 L470.03,366.17 L470.99,367.32 L471.97,368.46 L472.96,369.59 L473.96,370.71 L474.98,371.82 L476.02,372.91 L477.07,374.00 L478.14,375.08 L479.22,376.14 L480.31,377.19 L481.43,378.22 L482.56,379.24 L483.70,380.24 L484.86,381.21 L486.04,382.16 L487.23,383.09 L488.43,384.00 L489.66,384.88 L490.90,385.73 L492.15,386.55 L493.42,387.33 L494.71,388.09 L496.01,388.81 L497.33,389.49 L498.67,390.14 L500.02,390.75 L501.39,391.31 L502.77,391.84 L504.17,392.32 L505.59,392.75 L507.02,393.14 L508.47,393.48 L509.93,393.79 L511.40,394.06 L512.88,394.30 L514.38,394.51 L515.87,394.68 L517.38,394.84 L518.89,394.97 L520.40,395.08 L521.92,395.17 L523.44,395.25 L524.96,395.31 L526.47,395.35 L527.99,395.38 L529.51,395.39 L531.03,395.38 L532.54,395.35 L534.05,395.30 L535.56,395.23 L537.07,395.14 L538.57,395.03 L540.07,394.89 L541.57,394.73 L543.05,394.54 L544.54,394.33 L546.02,394.09 L547.49,393.82 L548.95,393.53 L550.41,393.21 L551.86,392.85 L553.30,392.47 L554.73,392.06 L556.15,391.61 L557.56,391.13 L558.97,390.62 L560.36,390.08 L561.74,389.50 L563.10,388.90 L564.46,388.26 L565.80,387.60 L567.13,386.90 L568.44,386.18 L569.74,385.42 L571.02,384.64 L572.29,383.84 L573.54,383.01 L574.77,382.15 L575.99,381.27 L577.19,380.36 L578.37,379.43 L579.52,378.48 L580.66,377.51 L581.78,376.51 L582.88,375.49 L583.96,374.45 L585.03,373.40 L586.07,372.32 L587.09,371.22 L588.09,370.11 L589.08,368.98 L590.05,367.83 L590.99,366.66 L591.92,365.48 L592.83,364.29 L593.72,363.07 L594.59,361.85 L595.45,360.61 L596.28,359.36 L597.10,358.09 L597.90,356.81 L598.68,355.52 L599.45,354.22 L600.19,352.91 L600.92,351.59 L601.63,350.27 L602.32,348.93 L603.00,347.58 L603.66,346.23 L604.30,344.87 L604.92,343.50 L605.53,342.13 L606.11,340.75 L606.69,339.37 L607.24,337.99 L607.78,336.60 L608.31,335.20 L608.82,333.80 L609.32,332.40 L609.80,330.99 L610.28,329.58 L610.75,328.17 L611.20,326.75 L611.65,325.32 L612.10,323.89 L612.53,322.46 L612.96,321.03 L613.39,319.58 L613.82,318.14 L614.24,316.69 L614.66,315.24 L615.08,313.78" stroke="#00f" stroke-width="2.0"/>
</g>
<g fill="#fff" stroke="#000" stroke-width="1.8">
<rect x="96.8" y="450.8" width="13.0" height="13.0"/>
<rect x="166.2" y="452.6" width="13.0" height="13.0"/>
<rect x="211.9" y="452.0" width="13.0" height="13.0"/>
<rect x="267.8" y="445.9" width="13.0" height="13.0"/>
<rect x="326.0" y="426.1" width="13.0" height="13.0"/>
<rect x="413.3" y="446.3" width="13.0" height="13.0"/>
<rect x="484.5" y="445.9" width="13.0" height="13.0"/>
<rect x="561.3" y="416.4" width="13.0" height="13.0"/>
<rect x="615.7" y="318.3" width="13.0" height="13.0"/>
<rect x="120.0" y="65.1" width="13.0" height="13.0"/>
<circle cx="209.0" cy="432.8" r="6.55"/>
<circle cx="250.3" cy="364.2" r="6.55"/>
<circle cx="267.2" cy="285.8" r="6.55"/>
<circle cx="282.2" cy="236.7" r="6.55"/>
<circle cx="299.7" cy="178.5" r="6.55"/>
<circle cx="310.0" cy="178.5" r="6.55"/>
<circle cx="310.9" cy="158.3" r="6.55"/>
<circle cx="327.9" cy="129.0" r="6.55"/>
<circle cx="342.0" cy="119.2" r="6.55"/>
<circle cx="360.8" cy="119.3" r="6.55"/>
<circle cx="374.2" cy="138.8" r="6.55"/>
<circle cx="386.7" cy="168.1" r="6.55"/>
<circle cx="387.5" cy="178.0" r="6.55"/>
<circle cx="398.7" cy="187.8" r="6.55"/>
<circle cx="410.0" cy="217.2" r="6.55"/>
<circle cx="422.0" cy="246.9" r="6.55"/>
<circle cx="431.7" cy="285.8" r="6.55"/>
<circle cx="448.2" cy="334.7" r="6.55"/>
<circle cx="566.3" cy="374.2" r="6.55"/>
<circle cx="126.4" cy="30.7" r="6.55"/>
</g>
<g font-size="27" text-anchor="middle">
<text transform="translate(90.2,523.0) scale(1,1.06)">4</text>
<text transform="translate(206.9,523.0) scale(1,1.06)">6</text>
<text transform="translate(323.6,523.0) scale(1,1.06)">8</text>
<text transform="translate(440.3,523.0) scale(1,1.06)">10</text>
<text transform="translate(557.0,523.0) scale(1,1.06)">12</text>
<text transform="translate(673.7,523.0) scale(1,1.06)">14</text>
<text transform="translate(380,569.7) scale(1,1.06)">pH</text>
</g>
<g font-size="27" text-anchor="end">
<text transform="translate(58.9,472.4) scale(1,1.06)">0</text>
<text transform="translate(58.9,322.2) scale(1,1.06)">2</text>
<text transform="translate(58.9,172.0) scale(1,1.06)">4</text>
<text transform="translate(58.9,21.7) scale(1,1.06)">6</text>
</g>
<text class="lg" x="178.6" y="37.9">With boric acid</text>
<text class="lg" x="178.6" y="78.9" letter-spacing="-0.2">No boric acid</text>
<text transform="translate(23.2,362.2) rotate(-90)" font-size="27.5" font-style="italic">k</text>
<text transform="translate(23.2,349.0) rotate(-90)" font-size="19.5">obs</text>
<text transform="translate(23.2,312.0) rotate(-90)" font-size="19.5">or</text>
<text transform="translate(23.2,288.6) rotate(-90)" font-size="27.5" font-style="italic">k</text>
<text transform="translate(23.2,275.3) rotate(-90)" font-size="19.5">obsB</text>
<text transform="translate(23.2,224.6) rotate(-90)" font-size="27.5">/</text>
<text transform="translate(23.2,211.0) rotate(-90)" font-size="27.5">1</text>
<text transform="translate(23.2,196.0) rotate(-90)" font-size="27.5">0</text>
<text transform="translate(15.2,179.5) rotate(-90)" font-size="17.5">-5</text>
<text transform="translate(23.2,155.6) rotate(-90)" font-size="27.5">s</text>
<text transform="translate(15.2,141.0) rotate(-90)" font-size="17.5">-1</text>
</svg></body></html>
